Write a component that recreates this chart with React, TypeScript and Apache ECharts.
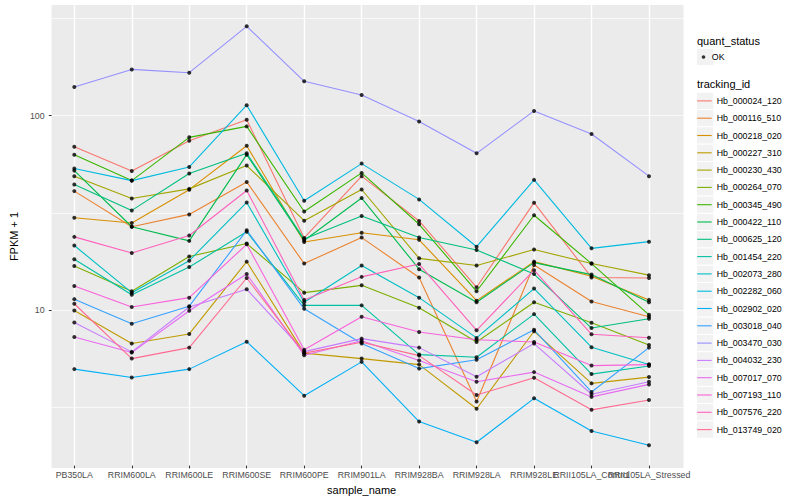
import React, { useEffect, useRef } from 'react';
import * as echarts from 'echarts';

const categories = [
  'PB350LA', 'RRIM600LA', 'RRIM600LE', 'RRIM600SE', 'RRIM600PE', 'RRIM901LA',
  'RRIM928BA', 'RRIM928LA', 'RRIM928LE', 'RRII105LA_Control', 'RRII105LA_Stressed',
];

const trackingIds = [
  'Hb_000024_120', 'Hb_000116_510', 'Hb_000218_020', 'Hb_000227_310', 'Hb_000230_430',
  'Hb_000264_070', 'Hb_000345_490', 'Hb_000422_110', 'Hb_000625_120', 'Hb_001454_220',
  'Hb_002073_280', 'Hb_002282_060', 'Hb_002902_020', 'Hb_003018_040', 'Hb_003470_030',
  'Hb_004032_230', 'Hb_007017_070', 'Hb_007193_110', 'Hb_007576_220', 'Hb_013749_020',
];

const colors = [
  '#F8766D', '#EA8331', '#D89000', '#C09B00', '#A3A500', '#7CAE00', '#39B600', '#00BB4E',
  '#00BF7D', '#00C1A3', '#00BFC4', '#00BAE0', '#00B0F6', '#35A2FF', '#9590FF', '#C77CFF',
  '#E76BF3', '#FA62DB', '#FF62BC', '#FF6C91',
];

// FPKM + 1 per sample, in category order
const hb000024_120 = [68.7, 51.5, 73.8, 94.6, 23.2, 48.4, 28.4, 12.9, 35.3, 14.5, 14.4];
const hb000116_510 = [40.5, 26.5, 30.7, 45.2, 17.1, 23.3, 14.5, 3.31, 16.8, 10.9, 9.08];
const hb000218_020 = [29.5, 27.7, 41.2, 69.5, 22.1, 24.7, 22.7, 11.0, 17.5, 14.7, 11.1];
const hb000227_310 = [9.79, 6.6, 7.4, 17.5, 5.89, 5.52, 5.14, 3.04, 7.64, 4.11, 4.43];
const hb000230_430 = [48.4, 37.1, 41.6, 54.9, 28.5, 41.3, 18.2, 16.7, 20.2, 17.1, 14.9];
const hb000264_070 = [16.6, 12.3, 18.6, 21.7, 12.1, 13.2, 10.1, 6.73, 10.8, 8.46, 6.49];
const hb000345_490 = [62.5, 45.9, 76.8, 87.5, 31.8, 50.3, 27.3, 12.3, 30.4, 17.1, 9.29];
const hb000422_110 = [51.7, 26.5, 22.4, 62.5, 22.5, 37.3, 16.0, 10.8, 17.3, 15.0, 10.8];
const hb000625_120 = [43.8, 32.2, 49.9, 63.5, 22.9, 30.1, 23.3, 20.1, 15.1, 7.94, 8.87];
const hb001454_220 = [18.0, 11.8, 16.4, 25.0, 10.4, 10.4, 5.79, 5.61, 9.37, 4.59, 5.05];
const hb002073_280 = [21.2, 12.1, 17.7, 35.4, 10.8, 16.7, 11.4, 7.06, 12.7, 6.32, 5.14];
const hb002282_060 = [53.0, 45.9, 54.0, 112.6, 36.1, 56.2, 36.7, 20.9, 46.3, 20.5, 22.2];
const hb002902_020 = [4.87, 4.41, 4.87, 6.75, 3.55, 5.31, 2.61, 2.04, 3.44, 2.33, 1.97];
const hb003018_040 = [11.2, 8.36, 10.3, 25.4, 9.98, 6.6, 4.9, 5.44, 7.78, 3.71, 6.29];
const hb003470_030 = [139.8, 172.4, 165.8, 287.9, 149.6, 127.2, 92.8, 63.5, 105.2, 79.9, 48.4];
const hb004032_230 = [8.49, 5.98, 10.2, 12.6, 6.0, 7.0, 6.29, 4.45, 6.6, 3.61, 4.19];
const hb007017_070 = [7.14, 5.93, 9.75, 15.1, 5.75, 6.83, 5.39, 4.19, 4.7, 3.5, 4.06];
const hb007193_110 = [13.1, 10.2, 11.4, 21.5, 6.14, 9.08, 7.57, 6.91, 6.73, 5.08, 5.14];
const hb007576_220 = [23.5, 19.4, 23.9, 40.8, 11.1, 14.6, 17.0, 7.73, 15.8, 7.37, 7.08];
const hb013749_020 = [10.6, 5.52, 6.29, 14.4, 5.89, 6.7, 5.72, 3.58, 4.39, 3.0, 3.37];

const yMin = 1.545;
const yMax = 371;

const FONT = "'Liberation Sans', Arial, Helvetica, sans-serif";

export default function App() {
  const ref = useRef<HTMLDivElement>(null);

  useEffect(() => {
    if (!ref.current) return;
    const chart = echarts.init(ref.current, null, { renderer: 'svg' });

    const seriesValues = [
      hb000024_120, hb000116_510, hb000218_020, hb000227_310, hb000230_430,
      hb000264_070, hb000345_490, hb000422_110, hb000625_120, hb001454_220,
      hb002073_280, hb002282_060, hb002902_020, hb003018_040, hb003470_030,
      hb004032_230, hb007017_070, hb007193_110, hb007576_220, hb013749_020,
    ];

    const lineSeries: any[] = trackingIds.map((name, i) => ({
      name,
      type: 'line',
      xAxisIndex: 1,
      yAxisIndex: 2,
      data: seriesValues[i],
      symbol: 'none',
      showSymbol: false,
      lineStyle: { color: colors[i], width: 1.1 },
      itemStyle: { color: colors[i] },
      emphasis: { disabled: true },
      silent: true,
    }));

    const points: number[][] = [];
    seriesValues.forEach((vals) => vals.forEach((v, j) => points.push([j, v])));

    const scatter = {
      name: 'OK',
      type: 'scatter',
      xAxisIndex: 1,
      yAxisIndex: 2,
      data: points,
      symbol: 'circle',
      symbolSize: 4,
      itemStyle: { color: '#000000' },
      emphasis: { disabled: true },
      silent: true,
      z: 3,
    };

    const keyTop = 92.25;
    const keyStep = 17.3;
    const graphicEls: any[] = [
      {
        type: 'text', x: 697, y: 40.5, z: 5,
        style: { text: 'quant_status', fontSize: 11, fill: '#000', fontFamily: FONT, verticalAlign: 'middle' },
      },
      {
        type: 'rect', z: 1,
        shape: { x: 696.5, y: 48.3, width: 17.3, height: 17.3 },
        style: { fill: '#F2F2F2', stroke: '#FFFFFF', lineWidth: 1 },
      },
      {
        type: 'text', x: 697, y: 83.6, z: 5,
        style: { text: 'tracking_id', fontSize: 11, fill: '#000', fontFamily: FONT, verticalAlign: 'middle' },
      },
    ];
    trackingIds.forEach((_, i) => {
      graphicEls.push({
        type: 'rect', z: 1,
        shape: { x: 696.5, y: keyTop + i * keyStep, width: 17.3, height: 17.3 },
        style: { fill: '#F2F2F2', stroke: '#FFFFFF', lineWidth: 1 },
      });
    });

    const isPow10 = (v: number) => {
      const l = Math.log10(v);
      return Math.abs(l - Math.round(l)) < 1e-6;
    };

    const option: any = {
      animation: false,
      textStyle: { fontFamily: FONT },
      grid: [
        {
          left: 40, right: 116.5, top: 5, bottom: 32,
          show: true, backgroundColor: '#EBEBEB', borderWidth: 0,
        },
        { left: 74.3, right: 151, top: 5, bottom: 32, show: false },
      ],
      xAxis: [
        { type: 'value', gridIndex: 0, min: 0, max: 1, show: false },
        {
          type: 'category',
          gridIndex: 1,
          data: categories,
          boundaryGap: false,
          axisLine: { show: false, onZero: false },
          axisTick: { show: true, length: 2.75, interval: 0, lineStyle: { color: '#333333', width: 1 } },
          axisLabel: { interval: 0, color: '#4D4D4D', fontSize: 8.8, margin: 4.5, fontFamily: FONT, hideOverlap: false },
          splitLine: { show: true, interval: 0, lineStyle: { color: '#FFFFFF', width: 1.4 } },
          name: 'sample_name',
          nameLocation: 'middle',
          nameGap: 14.5,
          nameTextStyle: { color: '#000000', fontSize: 11, fontFamily: FONT },
        },
      ],
      yAxis: [
        {
          type: 'log',
          gridIndex: 0,
          logBase: 10,
          min: yMin,
          max: yMax,
          splitNumber: 2,
          axisLine: { show: false },
          axisTick: { show: true, length: 2.75, customValues: [10, 100], lineStyle: { color: '#333333', width: 1 } },
          axisLabel: {
            color: '#4D4D4D', fontSize: 8.8, margin: 7, fontFamily: FONT,
            showMinLabel: false, showMaxLabel: false,
            formatter: (v: number) => (isPow10(v) ? String(Math.round(v)) : ''),
          },
          splitLine: { show: true, showMinLine: false, showMaxLine: false, lineStyle: { color: '#FFFFFF', width: 1.4 } },
          name: 'FPKM + 1',
          nameLocation: 'middle',
          nameRotate: 90,
          nameGap: 22,
          nameTextStyle: { color: '#000000', fontSize: 11, fontFamily: FONT },
        },
        {
          type: 'log',
          gridIndex: 0,
          logBase: Math.sqrt(10),
          min: yMin,
          max: yMax,
          position: 'left',
          axisLine: { show: false },
          axisTick: { show: false },
          axisLabel: { show: false },
          splitLine: { show: true, showMinLine: false, showMaxLine: false, lineStyle: { color: '#FFFFFF', width: 0.7 } },
        },
        {
          type: 'log',
          gridIndex: 1,
          logBase: 10,
          min: yMin,
          max: yMax,
          show: false,
        },
      ],
      legend: [
        {
          data: [{ name: 'OK', icon: 'circle', itemStyle: { color: '#000000' } }],
          orient: 'vertical',
          left: 701.7,
          top: 48.3,
          padding: 0,
          itemWidth: 6.6,
          itemHeight: 3.6,
          itemGap: 0,
          selectedMode: false,
          textStyle: { fontSize: 8.8, lineHeight: 17.3, color: '#000000', fontFamily: FONT },
        },
        {
          data: trackingIds.map((n, i) => ({ name: n, icon: 'rect', itemStyle: { color: colors[i] } })),
          orient: 'vertical',
          left: 697.2,
          top: keyTop,
          padding: 0,
          itemWidth: 14.5,
          itemHeight: 1.1,
          itemGap: 0,
          selectedMode: false,
          textStyle: { fontSize: 8.8, lineHeight: 17.3, color: '#000000', fontFamily: FONT },
        },
      ],
      graphic: { elements: graphicEls },
      series: [...lineSeries, scatter],
    };

    chart.setOption(option);
    return () => chart.dispose();
  }, []);

  return (
    <div
      ref={ref}
      style={{ position: 'fixed', left: 0, top: 0, width: 800, height: 500, background: '#FFFFFF' }}
    />
  );
}
